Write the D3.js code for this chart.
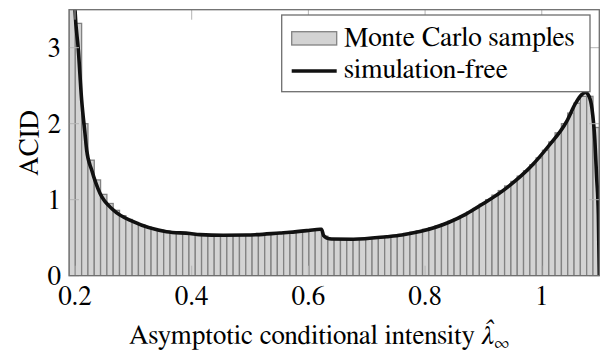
<!DOCTYPE html>
<html>
<head>
<meta charset="utf-8">
<script src="https://cdn.jsdelivr.net/npm/d3@7"></script>
<style>
  html, body { margin: 0; padding: 0; background: #fff; }
  svg { display: block; }
</style>
</head>
<body>
<svg id="chart" width="601" height="354"></svg>
<script>
// Histogram of Monte Carlo samples (84 equal-width bins over the x range)
const binRange = [0.1897, 1.0986];
const sampleDensity = [
  4.60, 3.32, 2.00, 1.52, 1.26, 1.07, 0.95, 0.86, 0.79, 0.74,
  0.70, 0.67, 0.64, 0.62, 0.60, 0.585, 0.572, 0.563, 0.556, 0.550,
  0.545, 0.541, 0.538, 0.536, 0.534, 0.533, 0.533, 0.534, 0.536, 0.539,
  0.543, 0.548, 0.553, 0.559, 0.566, 0.573, 0.581, 0.590, 0.598, 0.607,
  0.520, 0.483, 0.478, 0.477, 0.478, 0.481, 0.485, 0.491, 0.498, 0.507,
  0.517, 0.528, 0.541, 0.556, 0.573, 0.590, 0.610, 0.632, 0.657, 0.685,
  0.716, 0.750, 0.790, 0.835, 0.885, 0.940, 1.000, 1.060, 1.120, 1.180,
  1.240, 1.310, 1.380, 1.460, 1.550, 1.650, 1.760, 1.880, 2.000, 2.140,
  2.270, 2.360, 2.360, 1.950
];

// Simulation-free ACID curve
const lambdaGrid = [
  0.1960, 0.2000, 0.2057, 0.2114, 0.2170, 0.2200, 0.2286, 0.2430, 0.2657, 0.3000,
  0.3570, 0.3970, 0.4140, 0.4540, 0.4940, 0.5110, 0.5510, 0.5680, 0.6000, 0.6200,
  0.6225, 0.6260, 0.6320, 0.6400, 0.6770, 0.7340, 0.7600, 0.7910, 0.8400, 0.8700,
  0.9000, 0.9300, 0.9550, 0.9830, 1.0110, 1.0427, 1.0580, 1.0680, 1.0750, 1.0810,
  1.0860, 1.0910, 1.0940, 1.0970, 1.0986
];
const acidCurve = [
  4.40, 3.50, 2.97, 2.31, 1.88, 1.65, 1.39, 1.08, 0.864, 0.710,
  0.579, 0.555, 0.540, 0.533, 0.535, 0.540, 0.562, 0.571, 0.595, 0.612,
  0.612, 0.530, 0.495, 0.482, 0.480, 0.513, 0.535, 0.580, 0.700, 0.810,
  0.950, 1.100, 1.250, 1.450, 1.700, 2.030, 2.270, 2.380, 2.410, 2.360,
  2.200, 1.780, 1.300, 0.800, 0.000
];

const xTicks = [0.2, 0.4, 0.6, 0.8, 1];
const xTickLabels = ["0.2", "0.4", "0.6", "0.8", "1"];
const yTicks = [0, 1, 2, 3];
const yTickLabels = ["0", "1", "2", "3"];
const legendLabels = ["Monte Carlo samples", "simulation-free"];

const serif = '"FreeSerif", "Liberation Serif"';
const svg = d3.select("#chart");
const plot = { left: 69, right: 599.3, top: 9.7, bottom: 275.7 };

const x = d3.scaleLinear().domain(binRange).range([plot.left, plot.right]);
const y = d3.scaleLinear().domain([0, 3.5]).range([plot.bottom, plot.top]);

svg.append("defs").append("clipPath").attr("id", "plotClip")
  .append("rect")
  .attr("x", plot.left).attr("y", plot.top)
  .attr("width", plot.right - plot.left).attr("height", plot.bottom - plot.top);

const binWidth = (binRange[1] - binRange[0]) / sampleDensity.length;
const bins = sampleDensity.map((v, i) => ({
  x0: binRange[0] + i * binWidth,
  x1: binRange[0] + (i + 1) * binWidth,
  v
}));

const g = svg.append("g").attr("clip-path", "url(#plotClip)");

// histogram bars
g.selectAll("rect.bar").data(bins).join("rect")
  .attr("class", "bar")
  .attr("x", d => x(d.x0))
  .attr("y", d => y(d.v))
  .attr("width", d => x(d.x1) - x(d.x0))
  .attr("height", d => y(0) - y(d.v))
  .attr("fill", "#d3d3d3")
  .attr("stroke", "#828282")
  .attr("stroke-width", 1.3);

// tick marks (inside, on all four sides)
const tickLen = 10;
const tickG = svg.append("g").attr("stroke", "#b4b4b4").attr("stroke-width", 1);
xTicks.forEach(t => {
  tickG.append("line").attr("x1", x(t)).attr("x2", x(t))
    .attr("y1", plot.bottom).attr("y2", plot.bottom - tickLen);
  tickG.append("line").attr("x1", x(t)).attr("x2", x(t))
    .attr("y1", plot.top).attr("y2", plot.top + tickLen);
});
yTicks.forEach(t => {
  tickG.append("line").attr("x1", plot.left).attr("x2", plot.left + tickLen)
    .attr("y1", y(t)).attr("y2", y(t));
  tickG.append("line").attr("x1", plot.right).attr("x2", plot.right - tickLen)
    .attr("y1", y(t)).attr("y2", y(t));
});

// simulation-free curve
const line = d3.line()
  .x((d, i) => x(lambdaGrid[i]))
  .y(d => y(d))
  .curve(d3.curveMonotoneX);

g.append("path")
  .datum(acidCurve)
  .attr("d", line)
  .attr("fill", "none")
  .attr("stroke", "#111")
  .attr("stroke-width", 3.6)
  .attr("stroke-linejoin", "round");

// axis frame
svg.append("rect")
  .attr("x", plot.left).attr("y", plot.top)
  .attr("width", plot.right - plot.left).attr("height", plot.bottom - plot.top)
  .attr("fill", "none").attr("stroke", "#6e6e6e").attr("stroke-width", 1.3);

// tick labels
const fs = 27;
svg.append("g").selectAll("text").data(xTicks).join("text")
  .style("font-family", serif)
  .attr("x", d => x(d))
  .attr("y", 305)
  .attr("text-anchor", "middle")
  .attr("font-size", fs)
  .text((d, i) => xTickLabels[i]);

svg.append("g").selectAll("text").data(yTicks).join("text")
  .style("font-family", serif)
  .attr("x", 61)
  .attr("y", d => y(d) + 9)
  .attr("text-anchor", "end")
  .attr("font-size", fs)
  .text((d, i) => yTickLabels[i]);

// axis labels
const xl = svg.append("text")
  .style("font-family", serif)
  .attr("x", 319).attr("y", 344)
  .attr("text-anchor", "middle")
  .attr("font-size", fs);
xl.append("tspan").text("Asymptotic conditional intensity ");
xl.append("tspan").attr("font-style", "italic").text("λ\u0302");
xl.append("tspan").attr("font-size", 18).attr("dy", 5).text("∞");

svg.append("text")
  .style("font-family", serif)
  .attr("transform", "translate(38,143) rotate(-90)")
  .attr("text-anchor", "middle")
  .attr("font-size", fs)
  .text("ACID");

// legend
const lg = svg.append("g");
lg.append("rect")
  .attr("x", 281.7).attr("y", 15).attr("width", 308.3).attr("height", 76.7)
  .attr("fill", "#fff").attr("stroke", "#6e6e6e").attr("stroke-width", 1.3);
lg.append("rect")
  .attr("x", 291.7).attr("y", 31.7).attr("width", 45).attr("height", 13.3)
  .attr("fill", "#d3d3d3").attr("stroke", "#828282").attr("stroke-width", 1.3);
lg.append("line")
  .attr("x1", 291.7).attr("x2", 336.7).attr("y1", 71).attr("y2", 71)
  .attr("stroke", "#111").attr("stroke-width", 3.6);
lg.append("text").style("font-family", serif)
  .attr("x", 344).attr("y", 46).attr("font-size", 27.5).text(legendLabels[0]);
lg.append("text").style("font-family", serif)
  .attr("x", 344).attr("y", 78).attr("font-size", 27.5).text(legendLabels[1]);
</script>
</body>
</html>
